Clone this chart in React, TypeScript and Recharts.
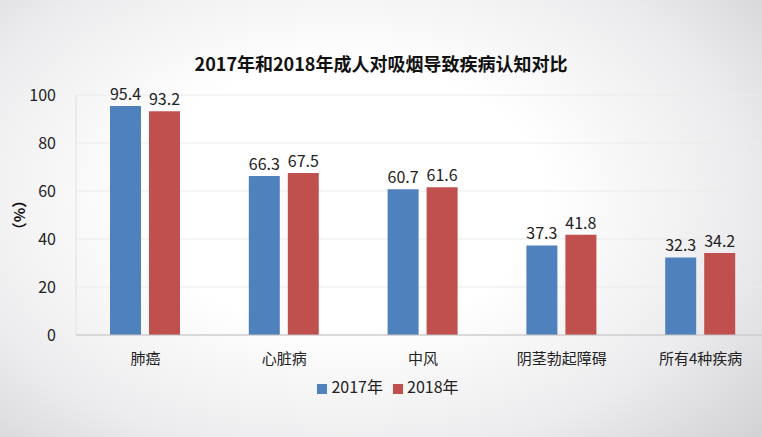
import { Bar, BarChart, CartesianGrid, LabelList, Legend, XAxis, YAxis } from "recharts";

const categories = ["肺癌", "心脏病", "中风", "阴茎勃起障碍", "所有4种疾病"];
const values2017 = [95.4, 66.3, 60.7, 37.3, 32.3];
const values2018 = [93.2, 67.5, 61.6, 41.8, 34.2];
const yTicks = [0, 20, 40, 60, 80, 100];

const data = categories.map((name, i) => ({
    name,
    y2017: values2017[i],
    y2018: values2018[i],
}));

const font = '"Noto Sans CJK SC", "Noto Sans", sans-serif';

const App = () => (
    <div
        style={{
            position: "absolute",
            left: 0,
            top: 0,
            width: 762,
            height: 437,
            overflow: "hidden",
            fontFamily: font,
            background:
                "radial-gradient(ellipse 75% 85% at 45% 45%, #ffffff 35%, #ececee 70%, #d0d0d4 100%)",
        }}
    >
        <div
            style={{
                position: "absolute",
                top: 50,
                left: 0,
                width: 762,
                textAlign: "center",
                fontSize: 18,
                fontWeight: 700,
                color: "#111",
            }}
        >
            2017年和2018年成人对吸烟导致疾病认知对比
        </div>
        <BarChart
            width={790}
            height={437}
            data={data}
            barSize={31}
            barGap={8}
            margin={{ top: 95, right: 20, left: 16, bottom: 39 }}
            style={{ position: "absolute", left: 0, top: 0 }}
        >
            <CartesianGrid vertical={false} stroke="#ebebeb" />
            <XAxis
                dataKey="name"
                height={39}
                axisLine={{ stroke: "#bfbfbf" }}
                tickLine={false}
                tickMargin={12}
                tick={{ fill: "#222", fontSize: 15, fontFamily: font }}
            />
            <YAxis
                width={60}
                domain={[0, 100]}
                ticks={yTicks}
                axisLine={{ stroke: "#e0e0e0" }}
                tickLine={false}
                tickMargin={14}
                tick={{ fill: "#222", fontSize: 16, fontFamily: font }}
                label={{
                    value: "（%）",
                    angle: -90,
                    position: "insideLeft",
                    offset: 4,
                    style: { fill: "#111", fontSize: 15, fontWeight: 700, textAnchor: "middle", fontFamily: font },
                }}
            />
            <Legend
                verticalAlign="bottom"
                iconType="square"
                iconSize={10}
                wrapperStyle={{ fontSize: 16, color: "#222" }}
                formatter={(value: string) => <span style={{ color: "#222" }}>{value}</span>}
            />
            <Bar dataKey="y2017" name="2017年" fill="#4f81bd" isAnimationActive={false}>
                <LabelList dataKey="y2017" position="top" offset={6} fill="#222" fontSize={16} />
            </Bar>
            <Bar dataKey="y2018" name="2018年" fill="#c0504d" isAnimationActive={false}>
                <LabelList dataKey="y2018" position="top" offset={6} fill="#222" fontSize={16} />
            </Bar>
        </BarChart>
    </div>
);

export default App;
